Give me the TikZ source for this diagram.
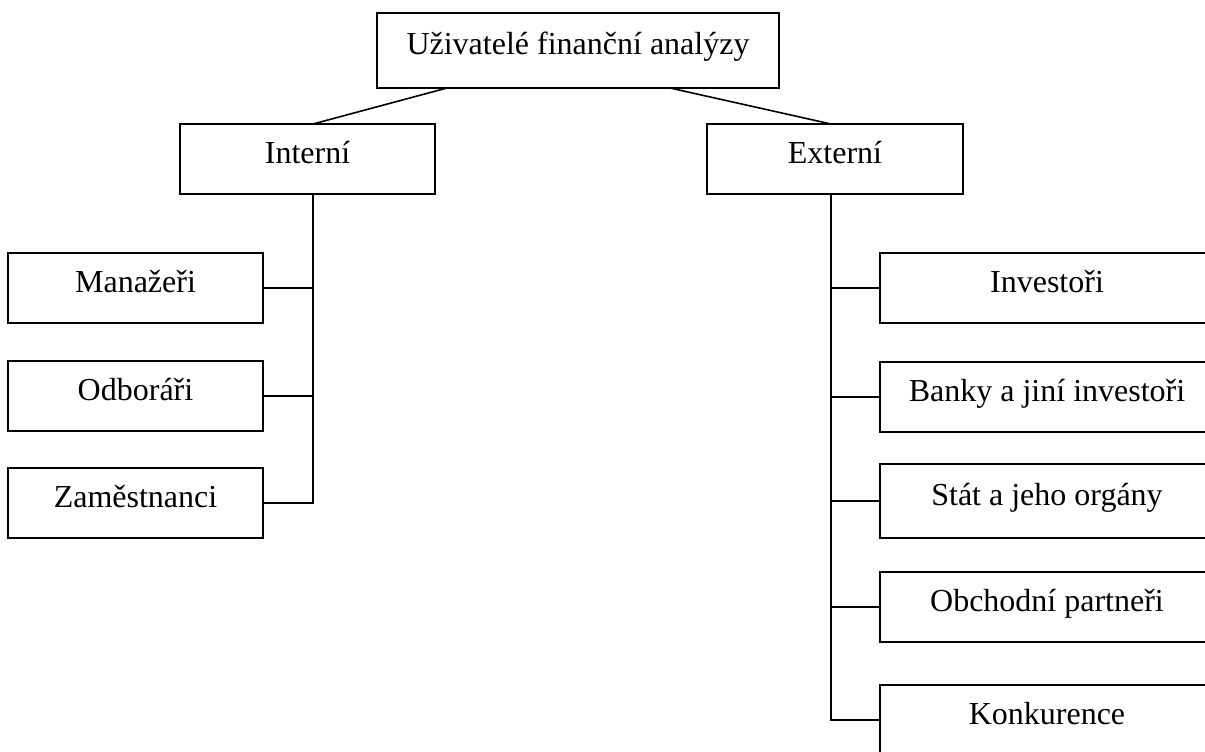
\documentclass[tikz,border=0pt]{standalone}
\usepackage{fontspec}
\setmainfont{Liberation Serif}
\begin{document}
\begin{tikzpicture}[x=1pt,y=-1pt,
  box/.style={draw=black,line width=1.6pt,rectangle,inner sep=0pt,
    text height=22pt,text depth=13pt,font=\fontsize{32}{36}\selectfont,
    minimum height=70pt},
  wire/.style={draw=black,line width=1.6pt}]
\clip (0,0) rectangle (1205,752);
\fill[white] (0,0) rectangle (1205,752);
% top
\node[box,minimum width=402pt,minimum height=75pt] (top) at (578,50.5) {Uživatelé finanční analýzy};
\node[box,minimum width=255pt] (int) at (307.5,159) {Interní};
\node[box,minimum width=256pt] (ext) at (835,159) {Externí};
% left children
\node[box,minimum width=255pt] (man) at (135.5,288) {Manažeři};
\node[box,minimum width=255pt] (odb) at (135.5,396) {Odboráři};
\node[box,minimum width=255pt] (zam) at (135.5,503) {Zaměstnanci};
% right children
\node[box,minimum width=334pt] (inv) at (1047,288) {Investoři};
\node[box,minimum width=334pt] (ban) at (1047,397) {Banky a jiní investoři};
\node[box,minimum width=334pt,minimum height=74pt] (sta) at (1047,501) {Stát a jeho orgány};
\node[box,minimum width=334pt] (obc) at (1047,607) {Obchodní partneři};
\node[box,minimum width=334pt] (kon) at (1047,720) {Konkurence};
% junction points
\coordinate (tl) at (447,88);
\coordinate (tr) at (670,88);
\coordinate (it) at (313,124);
\coordinate (ib) at (313,194);
\coordinate (et) at (831,124);
\coordinate (eb) at (831,194);
\draw[wire] (tl) -- (it);
\draw[wire] (tr) -- (et);
\draw[wire] (ib) |- (man.east);
\draw[wire] (ib) |- (odb.east);
\draw[wire] (ib) |- (zam.east);
\draw[wire] (eb) |- (inv.west);
\draw[wire] (eb) |- (ban.west);
\draw[wire] (eb) |- (sta.west);
\draw[wire] (eb) |- (obc.west);
\draw[wire] (eb) |- (kon.west);
\end{tikzpicture}
\end{document}
